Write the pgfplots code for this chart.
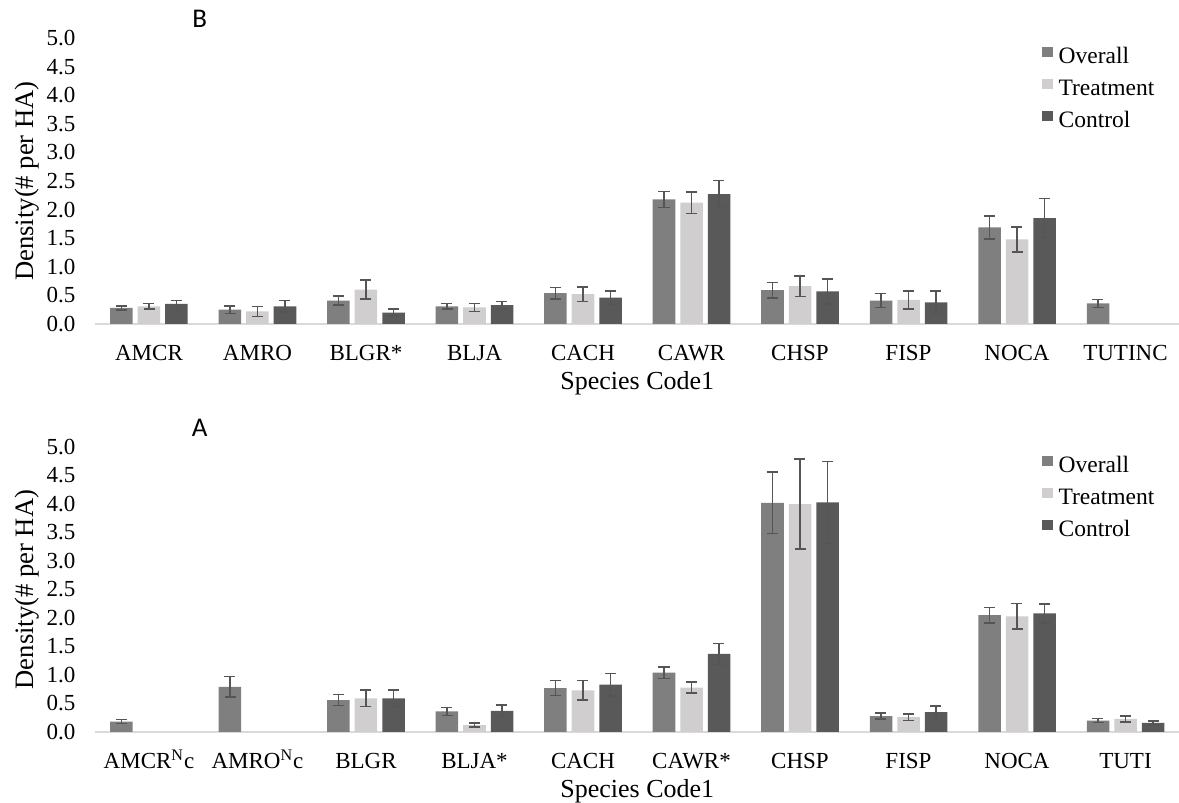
\documentclass[border=0pt]{standalone}
\usepackage{fontspec}
\setmainfont{Liberation Serif}
\newfontfamily\carlito{Carlito}
\usepackage{pgfplots}
\pgfplotsset{compat=1.18}
\definecolor{cO}{HTML}{7F7F7F}
\definecolor{cT}{HTML}{D0CECE}
\definecolor{cC}{HTML}{595959}
\definecolor{cE}{HTML}{555555}
\definecolor{cAx}{HTML}{D9D9D9}
\pgfplotsset{
  common/.style={
    scale only axis, width=542.5pt,
    xmin=-0.5, xmax=9.5, ymin=0, ymax=5, enlargelimits=false, clip=false,
    ybar=2.5pt, bar width=11.25pt,
    axis lines*=left,
    x axis line style={draw=cAx, line width=1pt},
    y axis line style={draw=none},
    major tick length=0pt,
    xtick={0,1,2,3,4,5,6,7,8,9},
    ytick={0,0.5,1,1.5,2,2.5,3,3.5,4,4.5,5},
    /pgf/number format/assume math mode=true,
    yticklabel style={/pgf/number format/.cd, fixed, fixed zerofill, precision=1, /tikz/.cd,
      inner sep=0pt, anchor=east, xshift=-9.5pt, font=\fontsize{11.5}{13}\selectfont},
    xticklabel style={inner sep=0pt, anchor=base, yshift=-18.5pt, font=\fontsize{11.5}{13}\selectfont},
    xlabel={Species Code1},
    xlabel style={at={(axis description cs:0.5,0)}, anchor=base, yshift=-33pt, inner sep=0pt,
      font=\fontsize{13}{15}\selectfont},
    ylabel={Density(\# per HA)},
    ylabel style={at={(axis description cs:-0.0625,0.5)}, anchor=center, inner sep=0pt,
      font=\fontsize{13.3}{15}\selectfont},
    legend style={at={(axis description cs:0.8725,0.972)}, anchor=north west, draw=none, fill=none,
      inner sep=0pt, row sep=5pt, font=\fontsize{11.75}{14}\selectfont,
      nodes={inner sep=0pt, text height=8.5pt, text depth=2.5pt},
      /tikz/every odd column/.style={column sep=3pt}},
    legend cell align=left,
    legend image code/.code={\fill[##1] (0pt,0pt) rectangle (5.4pt,5.4pt);},
  },
  eb/.style={error bars/.cd, y dir=both, y explicit,
    error bar style={color=cE, line width=0.75pt},
    error mark options={rotate=90, mark size=2.75pt, line width=0.75pt, color=cE}},
}
\begin{document}
\begin{tikzpicture}
\useasboundingbox (0,0) rectangle (589.5pt,401.5pt);
% ---------------- B (top) ----------------
\begin{axis}[common, at={(47.375pt,239.5pt)}, anchor=south west, height=143pt,
  extra description/.code={\node[anchor=center, inner sep=0pt, font=\carlito\fontsize{13.5}{15}\selectfont]
     at (axis description cs:0.0968,1.068) {B};},
  xticklabels={AMCR,AMRO,BLGR*,BLJA,CACH,CAWR,CHSP,FISP,NOCA,TUTINC}]
\addplot[fill=cO, draw=none, eb] coordinates {
  (0,0.28) +- (0,0.035) (1,0.25) +- (0,0.065) (2,0.41) +- (0,0.08) (3,0.31) +- (0,0.047)
  (4,0.54) +- (0,0.10) (5,2.18) +- (0,0.14) (6,0.59) +- (0,0.135) (7,0.41) +- (0,0.125)
  (8,1.69) +- (0,0.20) (9,0.36) +- (0,0.07)};
\addplot[fill=cT, draw=none, eb] coordinates {
  (0,0.31) +- (0,0.047) (1,0.22) +- (0,0.088) (2,0.60) +- (0,0.167) (3,0.29) +- (0,0.07)
  (4,0.52) +- (0,0.126) (5,2.12) +- (0,0.19) (6,0.66) +- (0,0.18) (7,0.42) +- (0,0.16)
  (8,1.48) +- (0,0.22)};
\addplot[fill=cC, draw=none, eb] coordinates {
  (0,0.35) +- (0,0.06) (1,0.31) +- (0,0.10) (2,0.20) +- (0,0.06) (3,0.33) +- (0,0.065)
  (4,0.46) +- (0,0.116) (5,2.27) +- (0,0.235) (6,0.57) +- (0,0.22) (7,0.38) +- (0,0.20)
  (8,1.85) +- (0,0.34)};
\legend{Overall,Treatment,Control}
\end{axis}
% ---------------- A (bottom) ----------------
\begin{axis}[common, at={(47.375pt,35.5pt)}, anchor=south west, height=142.5pt,
  extra description/.code={\node[anchor=center, inner sep=0pt, font=\carlito\fontsize{13.5}{15}\selectfont]
     at (axis description cs:0.0968,1.068) {A};},
  xticklabels={AMCR\textsuperscript{N}c,AMRO\textsuperscript{N}c,BLGR,BLJA*,CACH,CAWR*,CHSP,FISP,NOCA,TUTI}]
\addplot[fill=cO, draw=none, eb] coordinates {
  (0,0.18) +- (0,0.035) (1,0.79) +- (0,0.18) (2,0.56) +- (0,0.094) (3,0.36) +- (0,0.07)
  (4,0.77) +- (0,0.13) (5,1.04) +- (0,0.10) (6,4.02) +- (0,0.54) (7,0.28) +- (0,0.053)
  (8,2.05) +- (0,0.137) (9,0.20) +- (0,0.035)};
\addplot[fill=cT, draw=none, eb] coordinates {
  (2,0.59) +- (0,0.146) (3,0.12) +- (0,0.035)
  (4,0.73) +- (0,0.17) (5,0.78) +- (0,0.10) (6,4.00) +- (0,0.79) (7,0.26) +- (0,0.058)
  (8,2.03) +- (0,0.225) (9,0.23) +- (0,0.053)};
\addplot[fill=cC, draw=none, eb] coordinates {
  (2,0.59) +- (0,0.146) (3,0.37) +- (0,0.10)
  (4,0.83) +- (0,0.20) (5,1.37) +- (0,0.187) (6,4.03) +- (0,0.72) (7,0.35) +- (0,0.11)
  (8,2.08) +- (0,0.17) (9,0.16) +- (0,0.035)};
\legend{Overall,Treatment,Control}
\end{axis}
\end{tikzpicture}
\end{document}
